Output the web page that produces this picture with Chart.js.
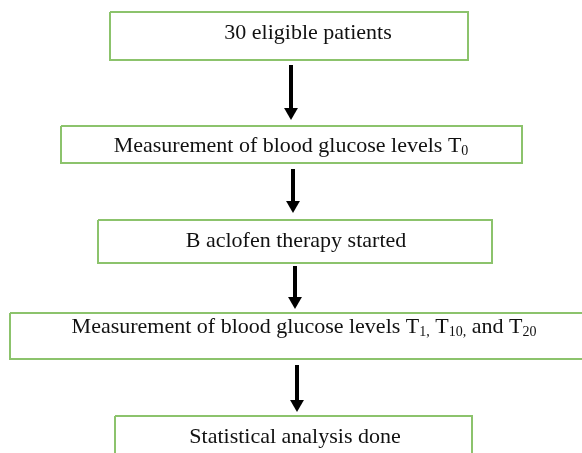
<!DOCTYPE html>
<html>
<head>
<meta charset="utf-8">
<script src="https://cdn.jsdelivr.net/npm/chart.js@4"></script>
<style>
html, body { margin: 0; padding: 0; background: #fff; }
#wrap { width: 582px; height: 453px; }
</style>
</head>
<body>
<div id="wrap"><canvas id="flow"></canvas></div>
<script>
// flow steps, {..} marks subscript text
const steps = [
    "30 eligible patients",
    "Measurement of blood glucose levels T{0}",
    "B aclofen therapy started",
    "Measurement of blood glucose levels T{1,} T{10,} and T{20}",
    "Statistical analysis done"
];

// box edges in diagram units (1 unit = 1 px of the page)
const boxLeft = [110, 61, 98, 10, 115];
const boxRight = [468, 522, 492, 590, 472];
const boxTop = [12, 126, 220, 313, 416];
const boxBottom = [60, 163, 263, 359, 470];

// arrows between the boxes
const arrowX = [291, 293, 295, 297];
const arrowFrom = [65, 169, 266, 365];
const arrowTo = [120, 213, 309, 412];

// label anchors (centre x, baseline y)
const labelX = [308, 291, 296, 304, 295];
const labelY = [39, 152, 247, 333, 443];

const GREEN = "#8cc36c";
const HEAD = 8;

const datasets = [];

steps.forEach((s, i) => {
    datasets.push({
        data: [
            { x: boxLeft[i], y: boxTop[i] },
            { x: boxRight[i], y: boxTop[i] },
            { x: boxRight[i], y: boxBottom[i] },
            { x: boxLeft[i], y: boxBottom[i] },
            { x: boxLeft[i], y: boxTop[i] }
        ],
        showLine: true,
        borderColor: GREEN,
        borderWidth: 2,
        pointRadius: 0,
        fill: false,
        tension: 0
    });
});

arrowX.forEach((x, i) => {
    datasets.push({
        data: [
            { x: x, y: arrowFrom[i] },
            { x: x, y: arrowTo[i] - HEAD }
        ],
        showLine: true,
        borderColor: "#000",
        borderWidth: 4,
        pointRadius: [0, HEAD],
        pointStyle: "triangle",
        rotation: 180,
        pointBackgroundColor: "#000",
        pointBorderColor: "#000",
        pointBorderWidth: 0
    });
});

function parseParts(text) {
    const parts = [];
    const re = /([^{]+)|\{([^}]*)\}/g;
    let m;
    while ((m = re.exec(text)) !== null) {
        if (m[1]) parts.push({ t: m[1], sub: false });
        else parts.push({ t: m[2], sub: true });
    }
    return parts;
}

const labelPlugin = {
    id: "stepLabels",
    afterDatasetsDraw(chart) {
        const ctx = chart.ctx;
        const xs = chart.scales.x;
        const ys = chart.scales.y;
        const mainFont = "22px 'Liberation Serif', 'Times New Roman', serif";
        const subFont = "14px 'Liberation Serif', 'Times New Roman', serif";

        ctx.save();
        ctx.fillStyle = "#111";
        ctx.textBaseline = "alphabetic";
        ctx.textAlign = "left";

        steps.forEach((s, i) => {
            const parts = parseParts(s);
            let total = 0;
            parts.forEach(p => {
                ctx.font = p.sub ? subFont : mainFont;
                p.w = ctx.measureText(p.t).width;
                total += p.w;
            });
            let x = xs.getPixelForValue(labelX[i]) - total / 2;
            const y = ys.getPixelForValue(labelY[i]);
            parts.forEach(p => {
                ctx.font = p.sub ? subFont : mainFont;
                ctx.fillText(p.t, x, p.sub ? y + 3 : y);
                x += p.w;
            });
        });
        ctx.restore();
    }
};

new Chart(
    document.getElementById("flow"),
    {
        type: "scatter",
        data: { datasets: datasets },
        options: {
            responsive: true,
            maintainAspectRatio: false,
            animation: false,
            events: [],
            layout: { padding: 0, autoPadding: false },
            plugins: {
                legend: { display: false },
                tooltip: { enabled: false }
            },
            scales: {
                x: { type: "linear", min: 0, max: 582, display: false },
                y: { type: "linear", min: 0, max: 453, reverse: true, display: false }
            }
        },
        plugins: [labelPlugin]
    }
);
</script>
</body>
</html>
